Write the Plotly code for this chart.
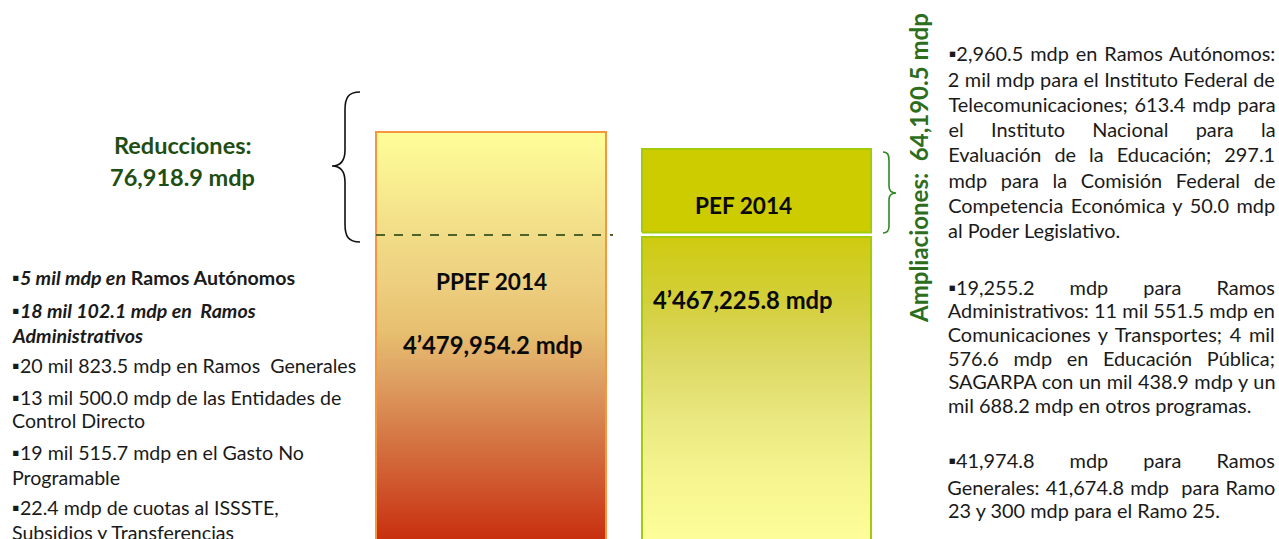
import json
import plotly.graph_objects as go

W, H = 1279, 539

# ---------------- data ----------------
bar_names = ["PPEF 2014", "PEF 2014"]
ppef_total = 4479954.2
pef_total = 4467225.8
reducciones = 76918.9
ampliaciones = 64190.5

reduccion_items = [
    "▪<b><i>5 mil mdp en</i> Ramos Autónomos</b>",
    "▪<b><i>18 mil 102.1 mdp en  Ramos</i></b>",
    "<b><i>Administrativos</i></b>",
    "▪20 mil 823.5 mdp en Ramos  Generales",
    "▪13 mil 500.0 mdp de las Entidades de",
    "Control Directo",
    "▪19 mil 515.7 mdp en el Gasto No",
    "Programable",
    "▪22.4 mdp de cuotas al ISSSTE,",
    "Subsidios y Transferencias",
]
reduccion_rows_y = [277, 310, 335, 365, 397, 420, 452, 477, 507, 532]

# right-hand text: (row y, text, justified?)
ampliacion_lines = [
    (53, "▪2,960.5 mdp en Ramos Autónomos:", True),
    (79, "2 mil mdp para el Instituto Federal de", True),
    (104, "Telecomunicaciones; 613.4 mdp para", True),
    (129, "el Instituto Nacional para la", True),
    (154, "Evaluación de la Educación; 297.1", True),
    (180, "mdp para la Comisión Federal de", True),
    (205, "Competencia Económica y 50.0 mdp", True),
    (230, "al Poder Legislativo.", False),
    (287, "▪19,255.2 mdp para Ramos", True),
    (310, "Administrativos: 11 mil 551.5 mdp en", True),
    (334, "Comunicaciones y Transportes; 4 mil", True),
    (358, "576.6 mdp en Educación Pública;", True),
    (381, "SAGARPA con un mil 438.9 mdp y un", True),
    (405, "mil 688.2 mdp en otros programas.", False),
    (460, "▪41,974.8 mdp para Ramos", True),
    (487, "Generales: 41,674.8 mdp  para Ramo", True),
    (510, "23 y 300 mdp para el Ramo 25.", False),
]


def fmt_mdp(v):
    s = f"{v:,.1f}"
    if s.count(",") >= 2:
        s = s.replace(",", "’", 1)
    return s + " mdp"


# ---------------- scale ----------------
base_after_cut = ppef_total - reducciones          # dashed line level
upp = ampliaciones / 86.0                            # units per pixel
dash_px = 235
y_top = base_after_cut + dash_px * upp
y_bot = base_after_cut - (H - dash_px) * upp

FONT = "Lato, 'DejaVu Sans', sans-serif"
GREEN_DARK = "#1F4E13"
GREEN = "#2C6E1E"
TXT = 19.9
LTXT = 19.6

fig = go.Figure()


def scale_from_px(stops, top_px):
    cs = []
    for py, c in stops:
        f = (538 - py) / (538 - top_px)
        cs.append([min(max(f, 0), 1), c])
    cs.sort(key=lambda t: t[0])
    if cs[0][0] > 0:
        cs.insert(0, [0, cs[0][1]])
    if cs[-1][0] < 1:
        cs.append([1, cs[-1][1]])
    return cs


# PPEF bar (gradient)
ppef_x = [376, 606]
ppef_stops_px = [(93, "#FFFE99"), (235, "#F1DC87"), (281, "#EDD080"), (330, "#E7C070"),
                 (380, "#DE9F62"), (430, "#D67C48"), (480, "#D05A30"), (538, "#C8300E")]
ppef_top_px = dash_px - reducciones / upp
grad_start = base_after_cut - (538 - dash_px) * upp

fig.add_trace(go.Scatter(
    x=[ppef_x[0], ppef_x[1], ppef_x[1], ppef_x[0], ppef_x[0]],
    y=[0, 0, ppef_total, ppef_total, 0],
    fill="toself", mode="lines",
    line=dict(color="#F7963E", width=2),
    fillgradient=dict(type="vertical",
                      colorscale=scale_from_px(ppef_stops_px, ppef_top_px),
                      start=grad_start, stop=ppef_total),
    hoverinfo="skip", showlegend=False))

# PEF lower bar (gradient)
pef_x = [642, 871]
gap_lo = 2.0 * upp
gap_hi = 2.5 * upp
pef_low_top = base_after_cut - gap_lo
pef_stops_px = [(237, "#CFCB10"), (300, "#D3CF3A"), (360, "#DDD965"), (420, "#EAE880"),
                (480, "#F6F590"), (538, "#FDFD99")]
fig.add_trace(go.Scatter(
    x=[pef_x[0], pef_x[1], pef_x[1], pef_x[0], pef_x[0]],
    y=[0, 0, pef_low_top, pef_low_top, 0],
    fill="toself", mode="lines",
    line=dict(color="#A2CB0E", width=2),
    fillgradient=dict(type="vertical",
                      colorscale=scale_from_px(pef_stops_px, 237),
                      start=grad_start, stop=pef_low_top),
    hoverinfo="skip", showlegend=False))

# PEF top box (ampliaciones)
fig.add_trace(go.Scatter(
    x=[pef_x[0], pef_x[1], pef_x[1], pef_x[0], pef_x[0]],
    y=[base_after_cut + gap_hi, base_after_cut + gap_hi, pef_total, pef_total, base_after_cut + gap_hi],
    fill="toself", mode="lines", fillcolor="#CCCC00",
    line=dict(color="#A2CB0E", width=2),
    hoverinfo="skip", showlegend=False))

# dashed cut line
fig.add_trace(go.Scatter(
    x=[ppef_x[0], ppef_x[1] + 7], y=[base_after_cut, base_after_cut],
    mode="lines", line=dict(color="#4F6228", width=2, dash="dash"),
    hoverinfo="skip", showlegend=False))


def P(x, y):
    return f"{x / W:.5f},{1 - y / H:.5f}"


def path(cmds):
    return " ".join(c if isinstance(c, str) else P(*c) for c in cmds)


left_brace = path(["M", (360, 92), "C", (348, 92), (345, 98), (345, 110), "L", (345, 150),
                   "C", (345, 160), (341, 166), (332, 166), "C", (341, 166), (345, 172), (345, 182),
                   "L", (345, 224), "C", (345, 236), (348, 242), (360, 242)])
right_brace = path(["M", (883, 152), "C", (888, 152), (889, 155), (889, 161), "L", (889, 186),
                    "C", (889, 190), (891, 193), (896, 193), "C", (891, 193), (889, 196), (889, 200),
                    "L", (889, 226), "C", (889, 230), (888, 233), (883, 233)])

fig.add_shape(type="path", path=left_brace, xref="paper", yref="paper",
              line=dict(color="#111111", width=1.6))
fig.add_shape(type="path", path=right_brace, xref="paper", yref="paper",
              line=dict(color="#2E8B22", width=1.6))


def ann(text, x, y, size, color="#111111", xanchor="left", angle=0):
    fig.add_annotation(xref="paper", yref="paper", x=x / W, y=1 - y / H, text=text,
                       showarrow=False, xanchor=xanchor, yanchor="middle", textangle=angle,
                       borderpad=0, font=dict(family=FONT, size=size, color=color))


# headings
ann("<b>Reducciones:</b>", 183, 145, 23.5, GREEN_DARK, "center")
ann(f"<b>{fmt_mdp(reducciones)}</b>", 183, 177, 23.5, GREEN_DARK, "center")
ann(f"<b>Ampliaciones:  {fmt_mdp(ampliaciones)}</b>", 918, 168, 24, GREEN, "center", -90)

# bar labels
ann(f"<b>{bar_names[0]}</b>", 491, 281, 22.6, "#0a0a0a", "center")
ann(f"<b>{fmt_mdp(ppef_total)}</b>", 493, 345, 23.8, "#0a0a0a", "center")
ann(f"<b>{bar_names[1]}</b>", 743, 205, 22.6, "#0a0a0a", "center")
ann(f"<b>{fmt_mdp(pef_total)}</b>", 743, 300, 23.8, "#0a0a0a", "center")

# left list
for t, yy in zip(reduccion_items, reduccion_rows_y):
    ann(t, 11, yy, LTXT, "#1a1a1a")

# right text (justified lines are centred on the column, then stretched in the page)
COL_L, COL_R = 948, 1275
justify_targets = {}
for yy, line, just in ampliacion_lines:
    if just:
        ann(line, (COL_L + COL_R) / 2, yy, TXT, "#1a1a1a", "center")
        justify_targets[" ".join(line.split())] = COL_R - COL_L
    else:
        ann(line, COL_L - 1, yy, TXT, "#1a1a1a")

fig.update_layout(
    width=W, height=H,
    margin=dict(l=0, r=0, t=0, b=0),
    paper_bgcolor="white", plot_bgcolor="white",
    xaxis=dict(range=[0, W], visible=False, fixedrange=True),
    yaxis=dict(range=[y_bot, y_top], visible=False, fixedrange=True),
    showlegend=False,
)

post = """
document.body.style.margin='0';document.body.style.overflow='hidden';
(function(){
  var gd = document.getElementById('{plot_id}');
  var targets = __TARGETS__;
  function justify(){
    var els = gd.querySelectorAll('text.annotation-text');
    els.forEach(function(el){
      var t = el.textContent.replace(/\\s+/g,' ').trim();
      var w = targets[t];
      if(!w) return;
      el.style.wordSpacing = '0px';
      var nat = el.getComputedTextLength();
      var n = (t.match(/ /g)||[]).length;
      if(n > 0 && w > nat){ el.style.wordSpacing = ((w - nat)/n) + 'px'; }
    });
  }
  try { justify(); } catch(e) {}
  if (gd && gd.on) { gd.on('plotly_afterplot', justify); }
  setTimeout(justify, 50);
  setTimeout(justify, 300);
})();
""".replace("__TARGETS__", json.dumps(justify_targets, ensure_ascii=False))

fig.write_html("out.html", config={"displayModeBar": False}, post_script=post)
